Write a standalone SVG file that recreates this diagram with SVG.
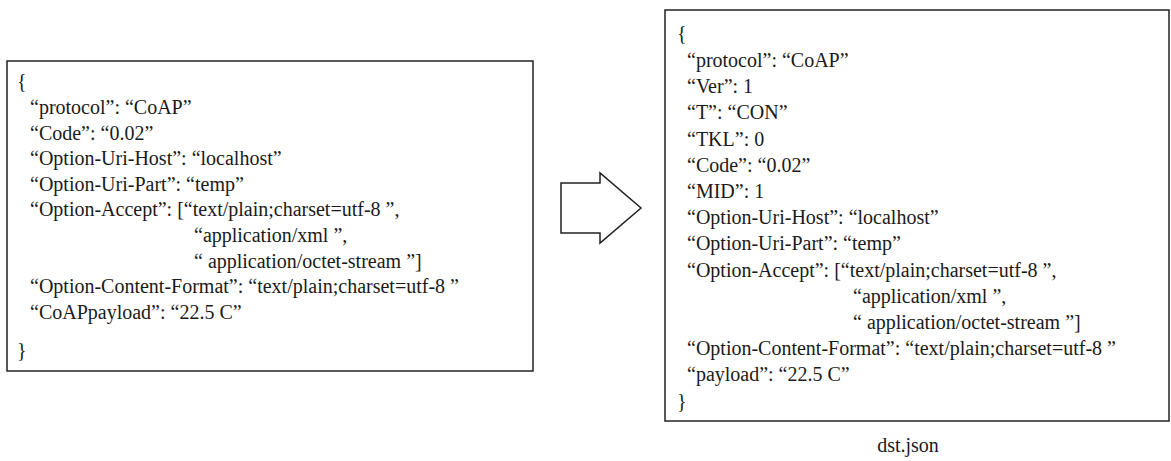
<svg xmlns="http://www.w3.org/2000/svg" width="1171" height="461" viewBox="0 0 1171 461">
<style>
.box{fill:#fff;stroke:#222;stroke-width:1.5}
text{font-family:'Liberation Serif','Times New Roman',Times,'DejaVu Serif',serif;font-size:20px;fill:#1a1a1a}
.arrow{fill:#fff;stroke:#222;stroke-width:1.5;stroke-linejoin:miter}
</style>
<rect width="1171" height="461" fill="#fff"/>
<g id="src" font-family="Liberation Serif, serif">
<rect class="box" x="7" y="61" width="526" height="310"/>
<text x="17" y="88">{</text>
<text x="30" y="114">“protocol”: “CoAP”</text>
<text x="30" y="139.6">“Code”: “0.02”</text>
<text x="30" y="165.2">“Option-Uri-Host”: “localhost”</text>
<text x="30" y="190.8">“Option-Uri-Part”: “temp”</text>
<text x="30" y="216.4">“Option-Accept”: [“text/plain;charset=utf-8 ”,</text>
<text x="194" y="242">“application/xml ”,</text>
<text x="194" y="267.6">“ application/octet-stream ”]</text>
<text x="30" y="293.2">“Option-Content-Format”: “text/plain;charset=utf-8 ”</text>
<text x="30" y="318.8">“CoAPpayload”: “22.5 C”</text>
<text x="17" y="357">}</text>
</g>
<g id="dst" font-family="Liberation Serif, serif">
<rect class="box" x="665" y="10" width="504" height="411"/>
<text x="677" y="40">{</text>
<text x="687" y="67">“protocol”: “CoAP”</text>
<text x="687" y="93.2">“Ver”: 1</text>
<text x="687" y="119.4">“T”: “CON”</text>
<text x="687" y="145.6">“TKL”: 0</text>
<text x="687" y="171.8">“Code”: “0.02”</text>
<text x="687" y="198">“MID”: 1</text>
<text x="687" y="224.2">“Option-Uri-Host”: “localhost”</text>
<text x="687" y="250.4">“Option-Uri-Part”: “temp”</text>
<text x="687" y="276.6">“Option-Accept”: [“text/plain;charset=utf-8 ”,</text>
<text x="853" y="302.8">“application/xml ”,</text>
<text x="853" y="329">“ application/octet-stream ”]</text>
<text x="687" y="355.2">“Option-Content-Format”: “text/plain;charset=utf-8 ”</text>
<text x="687" y="381.4">“payload”: “22.5 C”</text>
<text x="677" y="407.6">}</text>
<text x="908" y="452" text-anchor="middle">dst.json</text>
</g>
<g id="connectors">
<polygon class="arrow" points="561,183 600,183 600,173 641,208 600,243 600,233 561,233"/>
</g>
</svg>
